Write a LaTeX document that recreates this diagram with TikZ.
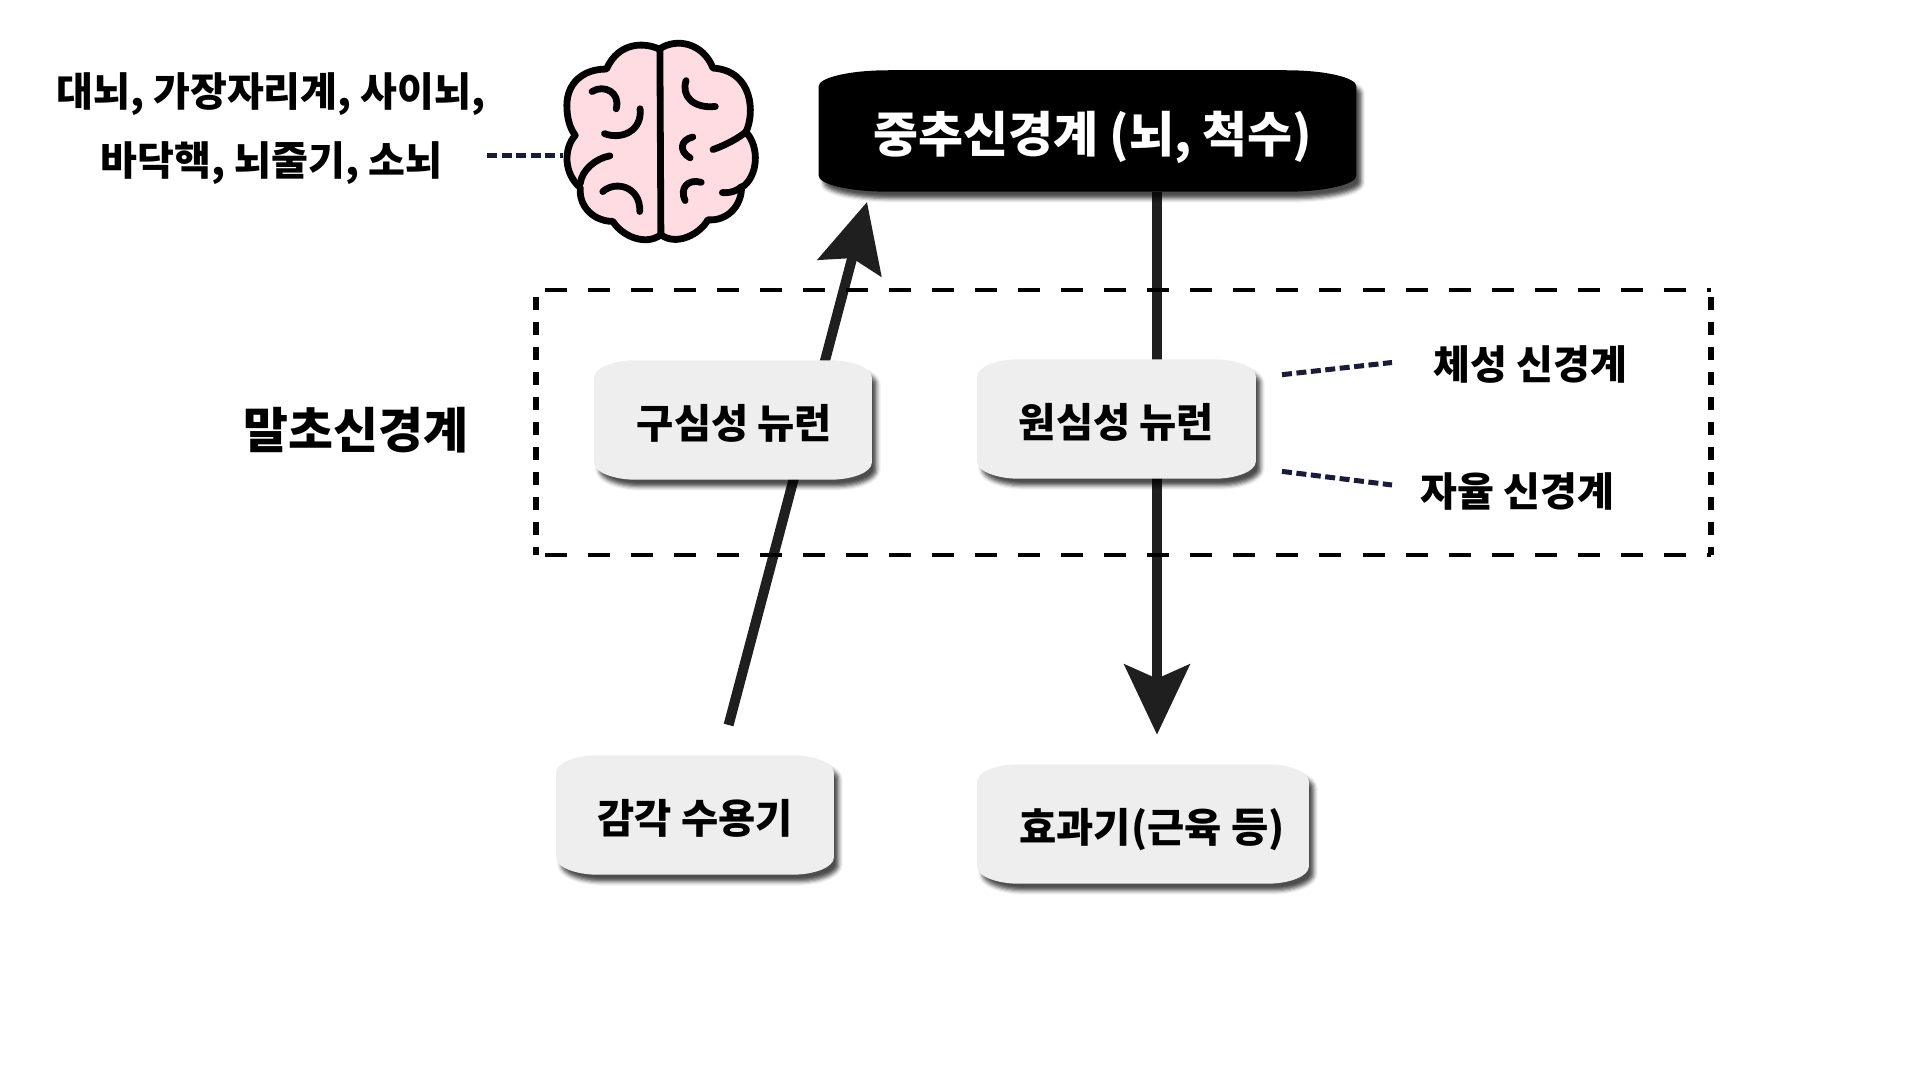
\documentclass[tikz,border=0pt]{standalone}
\usepackage{fontspec}
\setmainfont{Noto Sans CJK KR}
\usetikzlibrary{arrows.meta,backgrounds,calc,shadows.blur}
\definecolor{boxgray}{HTML}{EEEEEE}
\definecolor{flowgray}{HTML}{1F1F1F}
\definecolor{navy}{HTML}{1A1A3A}
\definecolor{brainpink}{HTML}{FFDCE1}
% panel with oval corners behind a named node
\newcommand{\softbox}[4]{\path[fill=#2,softshadow] let \p1=(#1.north west),\p2=(#1.south east) in
	(\x1+#3,\y1) -- (\x2-#3,\y1) .. controls (\x2-.45*#3,\y1) and (\x2,\y1-.45*#4) .. (\x2,\y1-#4)
	-- (\x2,\y2+#4) .. controls (\x2,\y2+.45*#4) and (\x2-.45*#3,\y2) .. (\x2-#3,\y2)
	-- (\x1+#3,\y2) .. controls (\x1+.45*#3,\y2) and (\x1,\y2+.45*#4) .. (\x1,\y2+#4)
	-- (\x1,\y1-#4) .. controls (\x1,\y1-.45*#4) and (\x1+.45*#3,\y1) .. (\x1+#3,\y1) -- cycle;}
\begin{document}
\begin{tikzpicture}[x=0.01cm,y=-0.01cm]
		\tikzset{softshadow/.style = {blur shadow={shadow xshift=.05cm,shadow yshift=-.07cm,shadow blur radius=.04cm,shadow opacity=70}}}
		\tikzset{label/.style = {font=\bfseries\fontsize{11.4pt}{14pt}\selectfont,inner sep=0pt}}
		\tikzset{biglabel/.style = {font=\bfseries\fontsize{13.9pt}{17pt}\selectfont,inner sep=0pt}}
		\tikzset{neuron/.style = {label,font=\bfseries\fontsize{11.5pt}{14pt}\selectfont,minimum height=1.18cm,text height=.39cm,text depth=.012cm}}
		\tikzset{flow/.style = {draw=flowgray,line width=.1cm}}
		\tikzset{branch/.style = {draw=navy,line width=.05cm,dash pattern=on .1cm off .045cm}}
		\tikzset{wide/.style = {line width=.043cm,dash pattern=on .22cm off .21cm}}
		\tikzset{tall/.style = {line width=.055cm,dash pattern=on .13cm off .12cm}}
		\useasboundingbox (0,0) rectangle (1920,1080);
		% central box
		\node[biglabel,text=white,minimum width=5.36cm,minimum height=1.2cm,text height=.44cm,text depth=.018cm] (cns) at (1087.5,131) {\hspace*{.11cm}중추신경계 (뇌, 척수)};
		% neurons and organs
		\node[neuron,minimum width=2.76cm] (afferent) at (733,420) {\hspace*{.03cm}구심성 뉴런};
		\node[neuron,minimum width=2.77cm] (efferent) at (1116.5,419) {원심성 뉴런};
		\node[neuron,minimum width=2.76cm] (receptor) at (695,815) {감각 수용기};
		\node[neuron,minimum width=3.30cm] (effector) at (1143,824) {\hspace*{.18cm}효과기(근육 등)};
		% labels
		\node[label] (upper) at (271,94) {대뇌, 가장자리계, 사이뇌,};
		\node[label] (lower) at (271.5,163.5) {바닥핵, 뇌줄기, 소뇌};
		\node[biglabel] (peripheral) at (356.3,430) {말초신경계};
		\node[label] (somatic) at (1530.7,364.5) {체성 신경계};
		\node[label] (autonomic) at (1517.7,491) {자율 신경계};
		% brain
		\begin{scope}[xshift=5.38cm,yshift=-.21cm,x=0.00336cm,y=-0.00331cm,line width=.068cm,line cap=round,line join=round]
			\draw[fill=brainpink] (360,85) .. controls (320,65) and (240,60) .. (203,145)
				.. controls (130,145) and (85,190) .. (85,255)
				.. controls (85,295) and (95,325) .. (110,345)
				.. controls (75,385) and (75,460) .. (125,503)
				.. controls (120,565) and (170,605) .. (222,605)
				.. controls (250,650) and (320,680) .. (365,645)
				.. controls (410,680) and (480,645) .. (505,600)
				.. controls (560,605) and (605,560) .. (605,503)
				.. controls (655,470) and (660,380) .. (618,335)
				.. controls (645,280) and (640,150) .. (520,142)
				.. controls (490,65) and (410,50) .. (360,85) -- cycle;
			\draw (362,85) -- (365,645);
			\draw (160,213) .. controls (195,190) and (245,215) .. (232,265);
			\draw (197,340) .. controls (250,360) and (310,330) .. (303,265);
			\draw (125,490) .. controls (130,450) and (170,415) .. (213,407);
			\draw (192,515) .. controls (230,480) and (305,500) .. (302,575);
			\draw (440,180) .. controls (425,225) and (460,265) .. (527,258);
			\draw (460,350) .. controls (420,360) and (420,395) .. (452,413);
			\draw (520,388) .. controls (565,372) and (600,350) .. (618,335);
			\draw (485,487) .. controls (445,475) and (420,505) .. (437,542);
			\draw (548,518) .. controls (575,520) and (595,510) .. (605,500);
		\end{scope}
		\coordinate (brainstart) at (487,155.5);
		\coordinate (brainend) at (563,155.5);
		\coordinate (sensetail) at (728.6,725);
		\coordinate (sensetip) at (867,202);
		\coordinate (motortip) at (1157,734.7);
		\coordinate (somaticstart) at (1282,374.7);
		\coordinate (somaticend) at (1392,362.5);
		\coordinate (autonomicstart) at (1282,471.4);
		\coordinate (autonomicend) at (1392,485);
		\draw[branch] (brainstart) -- (brainend);
		\draw[branch] (somaticstart) -- (somaticend);
		\draw[branch] (autonomicstart) -- (autonomicend);
		% pathways and panels behind the texts
		\begin{scope}[on background layer]
			\draw[flow,-{Stealth[length=.68cm,width=.65cm,inset=.1cm,fill=flowgray]}] (sensetail) -- (sensetip);
			\draw[flow,-{Stealth[length=.7cm,width=.65cm,inset=.14cm,fill=flowgray]}] (cns.south -| motortip) -- (motortip);
			\softbox{cns}{black}{.7cm}{.16cm}
			\softbox{afferent}{boxgray}{.42cm}{.17cm}
			\softbox{efferent}{boxgray}{.42cm}{.17cm}
			\softbox{receptor}{boxgray}{.42cm}{.17cm}
			\softbox{effector}{boxgray}{.42cm}{.17cm}
		\end{scope}
		% dashed frame of the peripheral part
		\coordinate (framenw) at (536,290);
		\coordinate (framese) at (1711,555);
		\draw[wide] ([xshift=.09cm]framenw) -- (framenw -| framese);
		\draw[wide] ([xshift=.09cm]framenw |- framese) -- (framese);
		\draw[tall] ([yshift=-.07cm]framenw) -- (framenw |- framese);
		\draw[tall] ([yshift=-.07cm]framenw -| framese) -- (framese);
	\end{tikzpicture}
\end{document}
